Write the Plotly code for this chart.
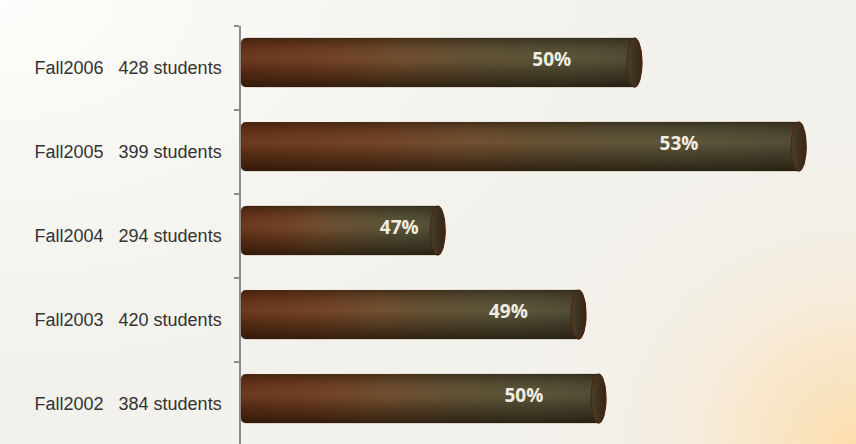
import numpy as np
import plotly.graph_objects as go

# ---- data ----
terms = ["Fall2006", "Fall2005", "Fall2004", "Fall2003", "Fall2002"]
students = [428, 399, 294, 420, 384]
percents = ["50%", "53%", "47%", "49%", "50%"]
bar_length = [65.2, 91.9, 33.2, 56.1, 59.35]   # bar length in axis units

# ---- style constants ----
PX_X = 6.15          # px per x unit
PX_Y = 84.0          # px per y unit
HALF_H = 24.5 / PX_Y
CAP_RX = 7.5 / PX_X
CORNER_RX = 5 / PX_X
CORNER_RY = 5 / PX_Y
BAR_SHIFT = 0.065
LABEL_FRAC = 0.775

n = len(terms)
ypos = [n - 1 - i for i in range(n)]  # 2006 at top


def body_shape(L, yc):
    xs, ys = [], []
    t = np.linspace(np.pi, 1.5 * np.pi, 8)
    xs += list(CORNER_RX + CORNER_RX * np.cos(t))
    ys += list(yc - HALF_H + CORNER_RY + CORNER_RY * np.sin(t))
    cx = L - CAP_RX
    t = np.linspace(-0.5 * np.pi, 0.5 * np.pi, 40)
    xs += list(cx + CAP_RX * np.cos(t))
    ys += list(yc + HALF_H * np.sin(t))
    t = np.linspace(0.5 * np.pi, np.pi, 8)
    xs += list(CORNER_RX + CORNER_RX * np.cos(t))
    ys += list(yc + HALF_H - CORNER_RY + CORNER_RY * np.sin(t))
    xs.append(xs[0]); ys.append(ys[0])
    return xs, ys


def cap_shape(L, yc):
    cx = L - CAP_RX
    t = np.linspace(0, 2 * np.pi, 60)
    return list(cx + CAP_RX * np.cos(t)), list(yc + HALF_H * np.sin(t))


fig = go.Figure()

# ---- background glow (subplot xy covering the page) ----
t = np.linspace(0, 2 * np.pi, 120)
fig.add_trace(go.Scatter(
    x=list(0.0 + 0.75 * np.cos(t)), y=list(1.0 + 0.9 * np.sin(t)),
    fill="toself", mode="none", hoverinfo="skip", showlegend=False,
    fillgradient=dict(type="radial", colorscale=[
        [0, "rgba(253,253,251,1)"], [0.5, "rgba(250,249,246,0.6)"], [1, "rgba(244,242,236,0)"]]),
    xaxis="x", yaxis="y"))
fig.add_trace(go.Scatter(
    x=list(1.0 + 0.42 * np.cos(t)), y=list(0.0 + 0.75 * np.sin(t)),
    fill="toself", mode="none", hoverinfo="skip", showlegend=False,
    fillgradient=dict(type="radial", colorscale=[
        [0, "rgba(252,222,172,1)"], [0.35, "rgba(249,229,198,0.7)"],
        [0.7, "rgba(245,238,225,0.25)"], [1, "rgba(244,242,236,0)"]]),
    xaxis="x", yaxis="y"))

# ---- cylinders ----
for i in range(n):
    L = bar_length[i]
    yc = ypos[i] + BAR_SHIFT
    bx, by = body_shape(L, yc)
    fig.add_trace(go.Scatter(
        x=bx, y=by, fill="toself", mode="none", hoverinfo="skip", showlegend=False,
        fillgradient=dict(type="horizontal", colorscale=[
            [0, "#673318"], [0.25, "#6d3f22"], [0.4, "#6b4a2c"],
            [0.6, "#5c4e32"], [0.8, "#555035"], [1, "#4c4630"]]),
        xaxis="x2", yaxis="y2"))
    fig.add_trace(go.Scatter(
        x=bx, y=by, fill="toself", mode="lines", hoverinfo="skip", showlegend=False,
        line=dict(color="rgba(40,25,10,0.3)", width=0.8),
        fillgradient=dict(type="vertical", colorscale=[
            [0, "rgba(15,8,0,0.6)"], [0.2, "rgba(15,8,0,0.35)"],
            [0.45, "rgba(0,0,0,0.05)"], [0.6, "rgba(255,220,180,0.04)"],
            [0.8, "rgba(0,0,0,0.05)"], [0.93, "rgba(15,8,0,0.25)"],
            [1, "rgba(15,8,0,0.4)"]]),
        xaxis="x2", yaxis="y2"))
    cx, cy = cap_shape(L, yc)
    fig.add_trace(go.Scatter(
        x=cx, y=cy, fill="toself", mode="lines", hoverinfo="skip", showlegend=False,
        line=dict(color="#4e2513", width=1.2),
        fillgradient=dict(type="horizontal", colorscale=[
            [0, "#4a4229"], [0.5, "#3d3220"], [1, "#3a2416"]]),
        xaxis="x2", yaxis="y2"))

# ---- percent labels ----
fig.add_trace(go.Scatter(
    x=[L * LABEL_FRAC for L in bar_length], y=[p + BAR_SHIFT + 0.01 for p in ypos],
    mode="text", text=percents, hoverinfo="skip", showlegend=False,
    textfont=dict(family="Open Sans", size=19, color="#f1ede2", weight="bold"),
    xaxis="x2", yaxis="y2"))

ticktext = [f"{t}\u00a0\u00a0\u00a0{s} students" for t, s in zip(terms, students)]

fig.update_layout(
    width=856, height=444,
    margin=dict(l=0, r=0, t=0, b=0),
    paper_bgcolor="#f3f1eb",
    plot_bgcolor="rgba(0,0,0,0)",
    showlegend=False,
    xaxis=dict(domain=[0, 1], range=[0, 1], visible=False, fixedrange=True),
    yaxis=dict(domain=[0, 1], range=[0, 1], visible=False, fixedrange=True),
    xaxis2=dict(domain=[241 / 856, 1], range=[0, 615 / PX_X], anchor="y2",
                visible=False, showgrid=False, zeroline=False),
    yaxis2=dict(domain=[0, 418 / 444], range=[4.5 - 418 / PX_Y, 4.5], anchor="x2",
                showline=True, linecolor="#8c8c8c", linewidth=1.5,
                showgrid=False, zeroline=False,
                tickmode="array", tickvals=ypos, ticktext=ticktext, ticks="",
                ticklabelstandoff=14, automargin=False,
                tickfont=dict(family="Liberation Sans", size=18, color="#333333"),
                minor=dict(tickmode="array", tickvals=[k + 0.5 for k in range(n)],
                           ticks="outside", ticklen=5, tickwidth=1.5, tickcolor="#8c8c8c",
                           showgrid=False)),
)

fig.write_html("out.html", config={"displayModeBar": False},
               post_script="document.body.style.margin='0';document.body.style.overflow='hidden';")
